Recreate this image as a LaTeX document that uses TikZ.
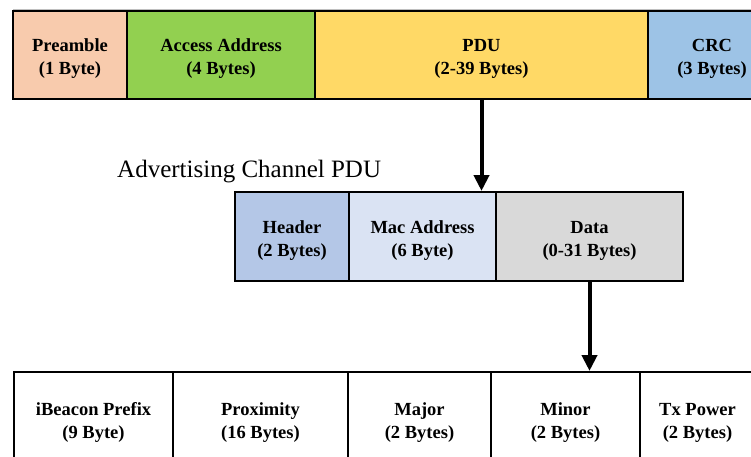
\documentclass[tikz,border=0pt]{standalone}
\usepackage{fontspec}
\setmainfont{Liberation Serif}
\usetikzlibrary{arrows.meta}

\definecolor{preamblefill}{HTML}{F8CBAD}
\definecolor{accessfill}{HTML}{92D050}
\definecolor{pdufill}{HTML}{FFD966}
\definecolor{crcfill}{HTML}{9DC3E6}
\definecolor{headerfill}{HTML}{B4C7E7}
\definecolor{macfill}{HTML}{DAE3F3}
\definecolor{datafill}{HTML}{D9D9D9}

\begin{document}
\begin{tikzpicture}[x=1pt,y=-1pt,
  field/.style={draw=black, line width=2pt, inner sep=0pt, align=center,
    font=\fontsize{18.5}{23}\selectfont\bfseries, text height=43pt},
  toprow/.style={field, minimum height=88pt},
  midrow/.style={field, minimum height=89pt},
  botrow/.style={field, fill=white, minimum height=94pt},
  link/.style={line width=4pt, -{Triangle[length=16pt,width=15pt]}}]
\useasboundingbox (0,0) rectangle (751,457);
\clip (0,0) rectangle (751,457);

% faint rule above the packet
\draw[black!25, line width=1pt] (13,9.5) -- (751,9.5);

% link-layer packet
\node[toprow, fill=preamblefill, minimum width=114pt] (pre) at (70,55)    {Preamble\\(1 Byte)};
\node[toprow, fill=accessfill,   minimum width=188pt] (acc) at (221,55)   {Access Address\\(4 Bytes)};
\node[toprow, fill=pdufill,      minimum width=333pt] (pdu) at (481.5,55) {PDU\\(2-39 Bytes)};
\node[toprow, fill=crcfill,      minimum width=128pt] (crc) at (712,55)   {CRC\\(3 Bytes)};

% advertising channel PDU
\node[anchor=base west, inner sep=0pt, font=\fontsize{25}{30}\selectfont] (advtitle) at (117,177) {Advertising Channel PDU};
\node[midrow, fill=headerfill, minimum width=114pt] (hdr)  at (292,236.5)   {Header\\(2 Bytes)};
\node[midrow, fill=macfill,    minimum width=147pt] (mac)  at (422.5,236.5) {Mac Address\\(6 Byte)};
\node[midrow, fill=datafill,   minimum width=187pt] (data) at (589.5,236.5) {Data\\(0-31 Bytes)};

% iBeacon payload
\node[botrow, minimum width=159pt] (prefix) at (93.5,419)  {iBeacon Prefix\\(9 Byte)};
\node[botrow, minimum width=175pt] (prox)   at (260.5,419) {Proximity\\(16 Bytes)};
\node[botrow, minimum width=143pt] (major)  at (419.5,419) {Major\\(2 Bytes)};
\node[botrow, minimum width=149pt] (minor)  at (565.5,419) {Minor\\(2 Bytes)};
\node[botrow, minimum width=115pt] (txp)    at (697.5,419) {Tx Power\\(2 Bytes)};

% expansion arrows
\draw[link] (pdu.south) -- (pdu.south |- mac.north);
\draw[link] (data.south) -- (data.south |- minor.north);
\end{tikzpicture}
\end{document}
